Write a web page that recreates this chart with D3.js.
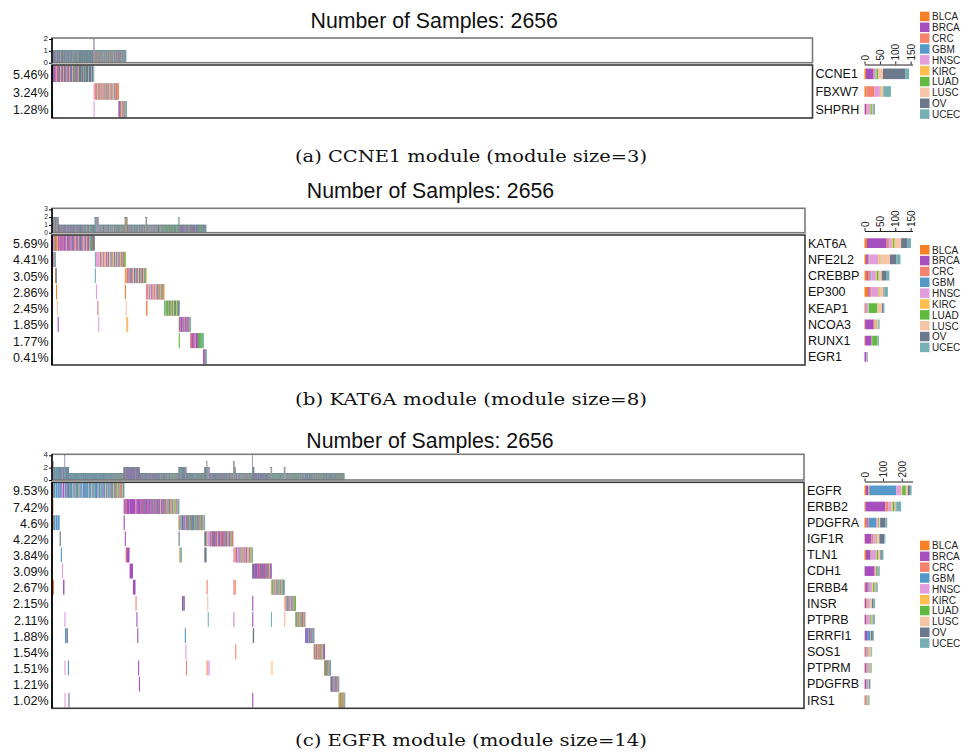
<!DOCTYPE html>
<html>
<head>
<meta charset="utf-8">
<script src="https://cdn.jsdelivr.net/npm/d3@7"></script>
<style>
  html, body { margin: 0; padding: 0; background: #fff; }
  svg { display: block; }
</style>
</head>
<body>
<svg id="fig" width="974" height="752"></svg>
<script>
// ---------------------------------------------------------------------------
// Cohort and cancer types
// ---------------------------------------------------------------------------
const totalSamples = 2656;
const cancerTypes = ["BLCA", "BRCA", "CRC", "GBM", "HNSC", "KIRC", "LUAD", "LUSC", "OV", "UCEC"];
const typeColors  = ["#F58025", "#A550BE", "#F3826F", "#5599C8", "#E19DDC", "#FDBE4F", "#5FBA3F", "#F6C5A8", "#6C788C", "#78AFB3"];
// one-letter codes used in the sample runs below (same order as cancerTypes)
const typeCodes = "abcghklsou";

// Each sample group: [indices of altered genes, run-length list of cancer types]
// e.g. "b3 o2" = three BRCA samples followed by two OV samples.
// Groups are listed in the column order of the oncoprint.

// ---- (a) CCNE1 module ----
const genesA = ["CCNE1", "FBXW7", "SHPRH"];
const pctA = ["5.46%", "3.24%", "1.28%"];
const groupsA = [
  [[0, 2], "l3"],
  [[0], "b3 o1 a1 b2 o2 h1 b2 s2 o1 a1 b2 u1 o2 k1 b2 o2 s2 b1 o1 h1 b2 o2 c1 s2 o1 a1 b2 o2 u2 s2 o1 b2 h1 o2 a1 b1 o1 s2 g1 o2 u2 b2 o2 s2 c1 o2 u2 b1 l1 s1 o2 u1 b2 a1 o2 g1 s1 c1 u1 k1 o8 u1 o6 s1 o7 l1 o9 u2 o8 s1 o6 u1"],
  [[1, 2], "h3"],
  [[1], "h2 c3 a1 u2 c2 h1 s1 c2 u3 a1 c2 h2 u2 c3 k1 h1 u2 c2 s1 u3 a1 h2 c2 u2 l1 c2 h1 u3 s2 c2 h2 a1 u2 c2 k1 u3 h1 s2 c2 o1 u2 h2 b1 c2 u1 k1 a1 c1"],
  [[2], "h2 b2 o1 b1 h1 c1 u1 b1 h1 s1 k1 l1 a1 u2 c1 s1 b1 h1 k1 o1 u1 c1 s1 g1 u1"]
];

// ---- (b) KAT6A module ----
const genesB = ["KAT6A", "NFE2L2", "CREBBP", "EP300", "KEAP1", "NCOA3", "RUNX1", "EGR1"];
const pctB = ["5.69%", "4.41%", "3.05%", "2.86%", "2.45%", "1.85%", "1.77%", "0.41%"];
const groupsB = [
  [[0, 1, 3], "h1"],
  [[0, 1], "b2 a1 h2 b1 s2 o1 u1"],
  [[0, 2], "a2 o1"],
  [[0, 3], "a3"],
  [[0, 4], "s3"],
  [[0, 5], "b3"],
  [[0], "b4 a1 b3 h1 b2 k1 b3 s2 b2 c1 b3 o1 h1 b3 s2 b2 u1 b3 c1 l1 b2 s2 b3 h1 b2 o2 u2 b3 c1 k1 b2 s2 b3 u1 h1 b2 c1 s2 b3 l1 o2 b2 g1 u2 b3 c1 s2 k1 b2 h1 u2 b2 l1 c2 s2 b2 u2 o2 b2 s2 l2 g1 k1 o2 u2 a1 o8"],
  [[1, 2], "u4"],
  [[1, 3], "h4"],
  [[1, 4], "h3 s1"],
  [[1, 5], "h2"],
  [[1], "h3 s2 o2 h2 a1 s3 h2 o2 s2 k1 h2 s3 o2 b1 s2 h2 o3 c1 s3 h2 u2 o2 s2 l1 h2 a1 s3 o2 g1 h1 s2 u2 o2 k1 s2 b1 h2 o2 u2 a1 s2 c1 k1 o2 s2 u2 g1 b1 c1 a1 o1 k1 l1"],
  [[2, 3], "a3"],
  [[2, 4], "s3"],
  [[2, 5], "a2 k1"],
  [[2], "b2 h2 c1 o2 h2 s1 l1 b1 h2 o2 u1 c2 h2 s2 g1 o2 l2 h2 u2 c1 o2 b1 h2 s2 k1 o2 g1 l2 h2 u2 c2 o2 b1 a1 s2 h1 g1 u2 o1 l1 k1"],
  [[3, 4], "h2 a2"],
  [[3], "a1 h2 b1 s2 h2 u2 c1 h2 s2 u1 b1 h2 a1 s2 h2 u2 k1 b1 h1 s2 c1 u2 h2 o1 b1 s2 a1 u2 h1 l1 c1 b1 k1 s2 g1 u2 h1 a1 c1 o1 l1 k1 u1 s1"],
  [[4], "g1 l3 s1 l4 o1 l3 s2 b1 l4 h1 l3 s2 o1 l3 u1 c1 s2 l3 o2 b1 l3 k1 s1 l2 u2 g1 o1"],
  [[5, 6], "l2"],
  [[5], "b5 c1 b4 s1 b3 u1 b4 k1 b3 s2 b3 o1 u1 b3 k2 s1 g1 u2"],
  [[6], "a1 b4 c1 b4 a1 b3 h1 b4 s1 b3 o1 b2 l3 b1 l4 u1 l3 u2 l4 u1"],
  [[7], "b3 o1 b2 s2 o1 u2"]
];

// ---- (c) EGFR module ----
const genesC = ["EGFR", "ERBB2", "PDGFRA", "IGF1R", "TLN1", "CDH1", "ERBB4", "INSR", "PTPRB", "ERRFI1", "SOS1", "PTPRM", "PDGFRB", "IRS1"];
const pctC = ["9.53%", "7.42%", "4.6%", "4.22%", "3.84%", "3.09%", "2.67%", "2.15%", "2.11%", "1.88%", "1.54%", "1.51%", "1.21%", "1.02%"];
const groupsC = [
  [[0, 1, 2], "a1 c2"],
  [[0, 2, 6], "a2"],
  [[0, 2], "g8 s1 g6 h1 g6"],
  [[0, 3], "o4"],
  [[0, 4], "g4"],
  [[0, 5], "h4"],
  [[0, 6], "b5"],
  [[0, 8, 11, 13], "h2"],
  [[0, 9], "g5 o5"],
  [[0, 11], "g2"],
  [[0, 13], "o2"],
  [[0], "g2 h1 g4 l1 g4 s1 g4 h2 g4 a1 g4 l2 g3 h1 g3 k1 g4 s1 g4 h2 g4 l1 g4 b1 g4 u1 g4 h2 g3 l2 g4 s1 g4 a1 h1 g4 l1 g4 b1 g3 h2 g4 k1 l1 g4 u1 g4 s1 h1 g4 b1 l2 g4 h2 u1 g3 a1 s1 g3 l1 h2 g3 b1 k1 g3 u1 l2 g2 h2 s1 b1 u2 g2 a1 h1 k1 l2 b1 s2 u2 g2 h1 c1 k1 l2 s1 b2 c2 a1 u1 h1 s1 l2 g1"],
  [[1, 2], "b4"],
  [[1, 3], "b3"],
  [[1, 4], "a3 b11"],
  [[1, 5], "b12"],
  [[1, 6], "b9"],
  [[1, 7], "c3"],
  [[1, 8], "b3"],
  [[1, 9], "b3"],
  [[1, 11], "b3"],
  [[1, 12], "b3"],
  [[1], "b3 c1 b2 u2 b2 a1 b3 h1 b2 u2 b2 l1 b3 c1 b2 h2 b2 u1 b3 k1 b2 s1 b2 u2 l1 b3 h1 b2 c1 b2 u2 b3 o1 h1 b2 l1 b2 u2 c1 b3 h2 k1 b2 u1 l1 b2 s1 h1 b2 u2 c1 b2 l2 h2 u2 b2 k1 s1 c1 u2 h1 b1 l1 g1 u2 k1 h1 c2 s1 l1 u2 o1 h2 s2 l2 k2 u2 g1 c1 h1 o1 u1 h2 l1 u1"],
  [[2, 3], "o3"],
  [[2, 4], "a3 u6"],
  [[2, 7], "o6 b4"],
  [[2, 9], "g2"],
  [[2, 10], "h2"],
  [[2, 11], "c2"],
  [[2], "o2 g2 a1 o2 u1 g2 s1 o2 h1 g1 o2 l1 a1 o2 g2 u1 o2 h1 g2 k1 o2 l1 s1 g2 h1 a1 g2 l1 o2 h1 c1 g1 k1 o2 s1 a1 g2 l1 o2 h1 g1 s1 k1 h1 l1 u1"],
  [[3, 4], "o8"],
  [[3, 6, 11], "c2"],
  [[3, 7], "s2"],
  [[3, 8], "u2"],
  [[3, 11], "h5"],
  [[3], "b2 h1 o1 b2 c1 s1 b2 o1 h1 b2 l1 c1 o1 b2 s1 b2 o1 u1 b2 c1 k1 s1 b2 o1 h1 b3 l1 s1 c1 b2 o1 h1 b3 a1 s1 c1 o1 b2 h1 g1 s1 l1 b3 o2 k1 u1 c1 s2 h1 b3 o1 a1 l1 k1 g1 s1 u2 c1 h1 o1 c1 s1"],
  [[4, 6, 8], "h5"],
  [[4, 6], "a2"],
  [[4, 10], "c2"],
  [[4], "h2 b2 l1 h2 s1 b1 h1 u1 s1 h2 b2 l1 k1 h2 u1 h2 l1 s1 b1 h1 c1 s1 l1 h2 b2 s1 h1 l1 b2 k1 s1 h2 l1 s1 h2 c1 l1 b1 s1 h1 k1 l1 s1 s1 l1 u1"],
  [[5, 7, 8, 13], "b2"],
  [[5, 9], "o5"],
  [[5], "b3 o1 b2 l1 b3 u1 b2 s1 b3 c1 b2 k1 b3 u1 l1 b3 b2 u1 b2 l1 b3 s1 a1 b3 u1 b3 l1 b3 c1 u1 k1 s1 l1 b1 u1 b1"],
  [[6, 8], "u2"],
  [[6, 11], "k2"],
  [[6], "h1 l2 g1 h1 s1 l1 u1 h1 c1 l1 g1 k1 h2 s1 o1 l1 u1 h1 g1 c1 l2 s1 h2 u1 g1 k1 o1 l1 h1 s1 u2 c1 g1 s1 l1 o1 u1"],
  [[7, 8], "s5"],
  [[7], "a1 h2 u2 c1 h1 o1 u2 b1 h2 a1 u1 l1 s1 h2 c1 u2 g1 h1 k1 u1 l1 o1 h2 c1 g1 k1 u1 l1"],
  [[8], "l2 h1 u1 l2 g1 h2 c1 l2 u1 h1 a1 k1 h2 u2 o1 c1 l1 h2 g1 b1 u1 a1 k1 c1 h1 o1 u1 s1"],
  [[9], "b2 g2 b2 u1 g2 b2 l1 s1 g2 b2 u2 a1 g2 b1 h1 l1 u1 g1 s1 b1 u1"],
  [[10], "a1 k1 g1 b1 h1 l1 u1 k1 s1 a1 b1 g1 c1 k1 h1 l1 u1 b1 s1 g1 a1 k1 o1 h1 l1 u1 b1 c1 k1 g1 a1 s1 h1 l1 o1 u1 b1"],
  [[11], "a1 l2 b1 l1 b1 s1 u1 l1 b1 a1 g1 l1 h1 b1 s1 u1 l1 o1 s1 b1 u1"],
  [[12], "l1 h1 b1 g1 o1 b1 h1 g1 o1 a1 b1 s1 g1 o1 h1 c1 b1 g1 u1 o1 a1 h1 b1 l1 g1 s1 o1 c1 u1"],
  [[13], "a2 l1 g1 k1 a1 l1 u1 g1 c1 a1 k1 l1 b1 s1 g1 a1 k1 l1 c1 u1"]
];

// Tick values for the small axes
const topTicksA = [0, 1, 2], topTicksB = [0, 1, 2, 3], topTicksC = [0, 2, 4];
const barTicksA = [0, 50, 100, 150], barTicksB = [0, 50, 100, 150], barTicksC = [0, 100, 200];

// ---------------------------------------------------------------------------
// Figure layout
// ---------------------------------------------------------------------------
const panels = [
  { genes: genesA, pct: pctA, groups: groupsA, topTicks: topTicksA, barTicks: barTicksA, barMax: 156,
    caption: "(a)  CCNE1 module (module size=3)",
    L: { left: 52, right: 812.5, titleY: 27.7, topBox: [38, 62.7], mat: [65, 118], axisY: 64.5, legendY: 11.7, captionY: 162 } },
  { genes: genesB, pct: pctB, groups: groupsB, topTicks: topTicksB, barTicks: barTicksB, barMax: 156,
    caption: "(b)  KAT6A module (module size=8)",
    L: { left: 52, right: 805, titleY: 197.5, topBox: [208.3, 232.7], mat: [235, 365], axisY: 231, legendY: 245, captionY: 405 } },
  { genes: genesC, pct: pctC, groups: groupsC, topTicks: topTicksC, barTicks: barTicksC, barMax: 258,
    caption: "(c)  EGFR module (module size=14)",
    L: { left: 52, right: 804, titleY: 447.5, topBox: [454.3, 480], mat: [482.3, 708.3], axisY: 481.5, legendY: 540.7, captionY: 746 } }
];

const SANS = "'Liberation Sans', Arial, Helvetica, sans-serif";
const SERIF = "'DejaVu Serif', 'Liberation Serif', serif";
const svg = d3.select("#fig");
const color = d3.scaleOrdinal().domain(d3.range(cancerTypes.length)).range(typeColors);

// expand run-length groups into one column per sample
function expand(groups) {
  const cols = [];
  groups.forEach(([genes, runs]) => {
    for (const m of runs.matchAll(/([a-z])(\d*)/g)) {
      const type = typeCodes.indexOf(m[1]);
      const n = m[2] ? +m[2] : 1;
      for (let i = 0; i < n; i++) cols.push({ genes, type });
    }
  });
  return cols;
}

// merge neighbouring columns with the same genes and type into one rect
function toRuns(cols) {
  const runs = [];
  cols.forEach((c, i) => {
    const last = runs[runs.length - 1];
    if (last && last.genes === c.genes && last.type === c.type) last.len++;
    else runs.push({ start: i, len: 1, genes: c.genes, type: c.type });
  });
  return runs;
}

function drawPanel(p) {
  const L = p.L;
  const cols = expand(p.groups);
  const g = svg.append("g").attr("font-family", SANS);
  const x = d3.scaleLinear().domain([0, totalSamples]).range([L.left, L.right]);

  // title
  g.append("text")
    .attr("x", (L.left + L.right) / 2 + 2).attr("y", L.titleY)
    .attr("text-anchor", "middle").attr("font-size", 21.3).attr("fill", "#111")
    .text(`Number of Samples: ${totalSamples}`);

  // --- top barplot: number of altered genes per sample ---
  const nAlt = cols.map(c => c.genes.length);
  const yTop = d3.scaleLinear().domain([0, d3.max(nAlt)]).range([L.topBox[1], L.topBox[0] + 1]);
  g.append("g").selectAll("rect").data(cols).join("rect")
    .attr("x", (d, i) => x(i))
    .attr("width", (d, i) => x(i + 1) - x(i))
    .attr("y", d => yTop(d.genes.length))
    .attr("height", d => yTop(0) - yTop(d.genes.length))
    .attr("fill", d => color(d.type))
    .attr("stroke", "#66878f").attr("stroke-width", 0.24);
  g.append("rect")
    .attr("x", L.left).attr("y", L.topBox[0])
    .attr("width", L.right - L.left).attr("height", L.topBox[1] - L.topBox[0])
    .attr("fill", "none").attr("stroke", "#7a7a7a").attr("stroke-width", 1.6);
  const tickGap = Math.abs(yTop(p.topTicks[1]) - yTop(p.topTicks[0]));
  const ax = g.append("g").attr("transform", `translate(${L.left},0)`)
    .call(d3.axisLeft(yTop).tickValues(p.topTicks).tickFormat(d3.format("d"))
      .tickSize(3).tickSizeOuter(0).tickPadding(1));
  ax.select(".domain").attr("stroke", "#000").attr("stroke-width", 1.4)
    .attr("d", `M0,${L.topBox[1]}V${L.topBox[0]}`);
  ax.selectAll("text").attr("font-size", Math.min(8, tickGap * 0.85)).attr("dy", "0.2em")
    .attr("font-family", SANS).attr("fill", "#222");

  // --- mutation matrix ---
  const y = d3.scaleBand().domain(p.genes).range([L.mat[0], L.mat[1]]).paddingInner(0.08).paddingOuter(0.04);
  const cells = toRuns(cols).flatMap(r => r.genes.map(gi => ({ ...r, gene: p.genes[gi] })));
  g.append("g").selectAll("rect").data(cells).join("rect")
    .attr("x", d => x(d.start))
    .attr("width", d => Math.max(x(d.start + d.len) - x(d.start), 1.1))
    .attr("y", d => y(d.gene))
    .attr("height", y.bandwidth())
    .attr("fill", d => color(d.type));
  g.append("rect")
    .attr("x", L.left).attr("y", L.mat[0])
    .attr("width", L.right - L.left).attr("height", L.mat[1] - L.mat[0])
    .attr("fill", "none").attr("stroke", "#3a3a3a").attr("stroke-width", 1.6);
  g.append("line").attr("x1", L.left).attr("x2", L.left).attr("y1", L.mat[0]).attr("y2", L.mat[1])
    .attr("stroke", "#000").attr("stroke-width", 1.6);

  // percentage labels (left) and gene names (right)
  g.append("g").selectAll("text").data(p.genes).join("text")
    .attr("x", 48.5).attr("y", d => y(d) + y.bandwidth() / 2).attr("dy", "0.4em")
    .attr("text-anchor", "end").attr("font-size", 12.5).attr("fill", "#111")
    .text((d, i) => p.pct[i]);
  g.append("g").selectAll("text").data(p.genes).join("text")
    .attr("x", L.right + 3).attr("y", d => y(d) + y.bandwidth() / 2).attr("dy", "0.35em")
    .attr("font-size", 12.5).attr("fill", "#111")
    .text(d => d);

  // --- right barplot: altered samples per gene, stacked by cancer type ---
  const tally = p.genes.map((name, gi) => {
    const o = { gene: name };
    cancerTypes.forEach(t => (o[t] = 0));
    cols.forEach(c => { if (c.genes.includes(gi)) o[cancerTypes[c.type]]++; });
    return o;
  });
  const stacked = d3.stack().keys(cancerTypes)(tally);
  const xr = d3.scaleLinear().domain([0, p.barMax]).range([864.5, 912.5]);
  const bh = y.step() * 0.6;
  g.append("g").selectAll("g").data(stacked).join("g")
    .attr("fill", (d, i) => typeColors[i])
    .selectAll("rect").data(d => d).join("rect")
    .attr("x", d => xr(d[0]))
    .attr("width", d => xr(d[1]) - xr(d[0]))
    .attr("y", d => y(d.data.gene) + y.bandwidth() / 2 - bh / 2)
    .attr("height", bh);
  const bx = g.append("g").attr("transform", `translate(0,${L.axisY})`)
    .call(d3.axisTop(xr).tickValues(p.barTicks).tickSize(3).tickSizeOuter(0));
  bx.select(".domain").attr("stroke", "#222");
  bx.selectAll(".tick line").attr("stroke", "#222");
  bx.selectAll("text")
    .attr("transform", "rotate(-90)")
    .attr("text-anchor", "start")
    .attr("x", 4).attr("y", 0).attr("dy", "0.35em")
    .attr("font-size", 10).attr("font-family", SANS).attr("fill", "#222");

  // --- legend ---
  const lg = g.append("g").selectAll("g").data(cancerTypes).join("g")
    .attr("transform", (d, i) => `translate(920,${L.legendY + i * 10.85})`);
  lg.append("rect").attr("width", 9.5).attr("height", 9.5).attr("fill", (d, i) => typeColors[i]);
  lg.append("text").attr("x", 12).attr("y", 8.6).attr("font-size", 10).attr("fill", "#222").text(d => d);

  // --- caption ---
  svg.append("text")
    .attr("x", 471).attr("y", L.captionY)
    .attr("text-anchor", "middle")
    .attr("font-family", SERIF).attr("font-size", 16).attr("fill", "#111")
    .attr("textLength", 352).attr("lengthAdjust", "spacingAndGlyphs")
    .text(p.caption);
}

panels.forEach(drawPanel);
</script>
</body>
</html>
